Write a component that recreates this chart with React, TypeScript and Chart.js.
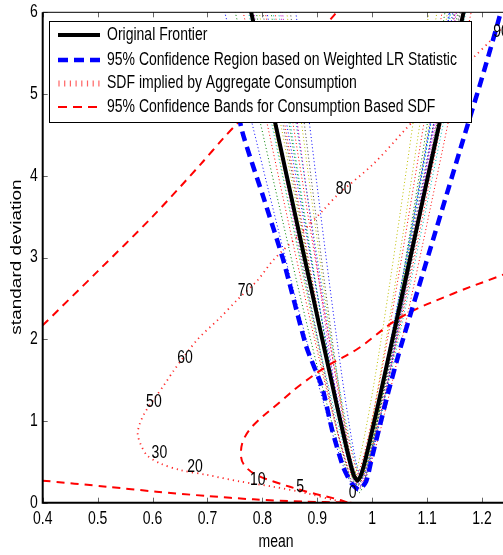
import React, { useEffect, useRef } from "react";
import { Chart, registerables } from "chart.js";
Chart.register(...registerables);

// ---------- data ----------
const meanTicks = [0.4, 0.5, 0.6, 0.7, 0.8, 0.9, 1.0, 1.1, 1.2];
const meanTickLabels = ["0.4", "0.5", "0.6", "0.7", "0.8", "0.9", "1", "1.1", "1.2"];
const sdTicks = [0, 1, 2, 3, 4, 5, 6];

const legendLabels = [
  "Original Frontier",
  "95% Confidence Region based on Weighted LR Statistic",
  "SDF implied by Aggregate Consumption",
  "95% Confidence Bands for Consumption Based SDF",
];

// [mean, standard deviation]
const originalFrontier: [number, number][] = [
  [0.7732, 6.2], [0.8119, 5], [0.8443, 4], [0.8766, 3], [0.9091, 2], [0.9353, 1.2],
  [0.9522, 0.7], [0.9614, 0.45], [0.9675, 0.32], [0.973, 0.27], [0.9785, 0.32],
  [0.9846, 0.45], [0.9938, 0.7], [1.0107, 1.2], [1.0369, 2], [1.0694, 3],
  [1.1017, 4], [1.1341, 5], [1.1728, 6.2],
];

const confidenceRegion: [number, number][] = [
  [0.735, 5.5], [0.763, 4.55], [0.802, 3.735], [0.838, 2.97], [0.88, 1.91],
  [0.909, 1.41], [0.927, 0.89], [0.947, 0.44], [0.962, 0.24], [0.976, 0.16],
  [0.989, 0.26], [0.9995, 0.55], [1.015, 0.97], [1.03, 1.37], [1.051, 1.885],
  [1.11, 3.2], [1.166, 4.45], [1.2, 5.2], [1.232, 5.95], [1.24, 6.2],
];

const sdfCurve: [number, number][] = [
  [0.962, 0.0], [0.93, 0.033], [0.881, 0.115], [0.82, 0.195], [0.759, 0.26],
  [0.699, 0.34], [0.65, 0.4], [0.614, 0.48], [0.59, 0.58], [0.578, 0.72],
  [0.573, 0.84], [0.576, 0.95], [0.585, 1.09], [0.602, 1.26], [0.62, 1.43],
  [0.639, 1.62], [0.681, 1.99], [0.724, 2.27], [0.754, 2.48], [0.791, 2.72],
  [0.82, 2.97], [0.866, 3.27], [0.911, 3.58], [0.936, 3.76], [1.003, 4.15],
  [1.058, 4.55], [1.12, 5.0], [1.185, 5.45], [1.215, 5.65], [1.245, 5.88],
];

const sdfLabels = ["0", "5", "10", "20", "30", "50", "60", "70", "80", "90"];
const sdfLabelMean = [0.9645, 0.869, 0.7915, 0.6775, 0.6125, 0.6025, 0.659, 0.7695, 0.948, 1.2345];
const sdfLabelSd = [0.122, 0.195, 0.278, 0.44, 0.61, 1.235, 1.77, 2.59, 3.84, 5.76];

const bandUpper: [number, number][] = [
  [0.4, 2.17], [0.5, 2.83], [0.6, 3.5], [0.6875, 4.14], [0.729, 4.46], [0.754, 4.64],
  [0.85, 5.36], [0.93, 5.96], [0.965, 6.25],
];

const bandLoop: [number, number][] = [
  [0.955, 0.0], [0.942, 0.033], [0.881, 0.135], [0.82, 0.26], [0.784, 0.36],
  [0.766, 0.47], [0.761, 0.58], [0.765, 0.76], [0.784, 0.95], [0.83, 1.22],
  [0.869, 1.44], [0.92, 1.68], [0.973, 1.88], [1.052, 2.27], [1.148, 2.56],
  [1.227, 2.76], [1.25, 2.82],
];

const bandLower: [number, number][] = [
  [0.4, 0.27], [0.516, 0.196], [0.607, 0.135], [0.699, 0.082], [0.784, 0.041],
  [0.881, 0.012], [0.947, 0.004], [0.96, 0.0],
];

// bootstrap frontier cloud (dotted, many colours)
const cloudLines: [number, number][][] = [
  [[0.72, 6.3], [0.966, 0.22], [1.15, 6.3]],
  [[0.74, 6.3], [0.97, 0.18], [1.165, 6.3]],
  [[0.755, 6.3], [0.968, 0.3], [1.135, 6.3]],
  [[0.765, 6.3], [0.975, 0.25], [1.18, 6.3]],
  [[0.775, 6.3], [0.972, 0.15], [1.16, 6.3]],
  [[0.785, 6.3], [0.978, 0.28], [1.145, 6.3]],
  [[0.792, 6.3], [0.974, 0.33], [1.17, 6.3]],
  [[0.8, 6.3], [0.98, 0.2], [1.155, 6.3]],
  [[0.808, 6.3], [0.976, 0.12], [1.14, 6.3]],
  [[0.815, 6.3], [0.982, 0.26], [1.19, 6.3]],
  [[0.822, 6.3], [0.979, 0.35], [1.15, 6.3]],
  [[0.83, 6.3], [0.97, 0.24], [1.16, 6.3]],
  [[0.838, 6.3], [0.973, 0.3], [1.125, 6.3]],
  [[0.845, 6.3], [0.977, 0.17], [1.168, 6.3]],
  [[0.855, 6.3], [0.981, 0.29], [1.148, 6.3]],
  [[0.78, 6.3], [0.969, 0.21], [1.158, 6.3]],
  [[0.797, 6.3], [0.975, 0.23], [1.175, 6.3]],
  [[0.812, 6.3], [0.971, 0.27], [1.152, 6.3]],
  [[0.826, 6.3], [0.978, 0.19], [1.162, 6.3]],
  [[0.77, 6.3], [0.964, 0.31], [1.11, 6.3]],
];

// ---------- styles ----------
const cloudColors = ["#0000ff", "#008000", "#ff0000", "#00bfbf", "#bf00bf", "#bfbf00", "#404040"];
const FONT = '"Liberation Sans", Arial, Helvetica, sans-serif';
const FS = 17.5;
const SX = 0.8;

function txt(ctx: CanvasRenderingContext2D, s: string, x: number, y: number, align: CanvasTextAlign, size = FS, sx = SX) {
  ctx.save();
  ctx.translate(x, y);
  ctx.scale(sx, 1);
  ctx.font = `${size}px ${FONT}`;
  ctx.fillStyle = "#000";
  ctx.textAlign = align;
  ctx.textBaseline = "middle";
  ctx.fillText(s, 0, 0);
  ctx.restore();
}

const overlay = {
  id: "overlay",
  afterDatasetsDraw(chart: any) {
    const { ctx, chartArea: a, scales } = chart;
    const xs = scales.x, ys = scales.y;
    ctx.save();
    // curve labels
    sdfLabels.forEach((l, i) => txt(ctx, l, xs.getPixelForValue(sdfLabelMean[i]), ys.getPixelForValue(sdfLabelSd[i]), "center"));
    // ticks (inward)
    ctx.strokeStyle = "#666";
    ctx.lineWidth = 1;
    ctx.setLineDash([]);
    meanTicks.forEach((v) => {
      const px = Math.round(xs.getPixelForValue(v)) + 0.5;
      ctx.beginPath();
      ctx.moveTo(px, a.bottom); ctx.lineTo(px, a.bottom - 5);
      ctx.moveTo(px, a.top); ctx.lineTo(px, a.top + 5);
      ctx.stroke();
    });
    sdTicks.forEach((v) => {
      const py = Math.round(ys.getPixelForValue(v)) + 0.5;
      ctx.beginPath();
      ctx.moveTo(a.left, py); ctx.lineTo(a.left + 5, py);
      ctx.stroke();
    });
    // axes
    ctx.strokeStyle = "#000";
    ctx.lineWidth = 1;
    ctx.beginPath();
    ctx.moveTo(a.left, a.top); ctx.lineTo(a.right + 5, a.top);
    ctx.stroke();
    ctx.lineWidth = 2;
    ctx.beginPath();
    ctx.moveTo(a.left, a.top); ctx.lineTo(a.left, a.bottom); ctx.lineTo(a.right + 5, a.bottom);
    ctx.stroke();
    // tick labels
    meanTicks.forEach((v, i) => txt(ctx, meanTickLabels[i], xs.getPixelForValue(v), a.bottom + 16.5, "center"));
    sdTicks.forEach((v) => txt(ctx, String(v), a.left - 5, ys.getPixelForValue(v), "right"));
    // axis titles
    txt(ctx, "mean", 276, 542, "center");
    ctx.save();
    ctx.translate(17, 257);
    ctx.rotate(-Math.PI / 2);
    ctx.scale(1, SX);
    ctx.font = `19px ${FONT}`;
    ctx.fillStyle = "#000";
    ctx.textAlign = "center";
    ctx.textBaseline = "middle";
    ctx.fillText("standard deviation", 0, 0);
    ctx.restore();
    // legend
    const lx = 49.5, ly = 21.5, lw = 422, lh = 101;
    ctx.fillStyle = "#fff";
    ctx.fillRect(lx, ly, lw, lh);
    ctx.strokeStyle = "#000";
    ctx.lineWidth = 1;
    ctx.strokeRect(lx, ly, lw, lh);
    const rows = [35, 60, 83.5, 107];
    const styles = [
      { c: "#000", w: 4, d: [] as number[] },
      { c: "#0000ff", w: 4.5, d: [10, 6] },
      { c: "rgba(255,60,60,0.8)", w: 1.5, d: [1.2, 4.5] },
      { c: "#ff0000", w: 2, d: [9, 6] },
    ];
    rows.forEach((ry, i) => {
      const s = styles[i];
      ctx.strokeStyle = s.c;
      ctx.lineWidth = s.w;
      ctx.setLineDash(s.d);
      ctx.lineCap = "butt";
      if (i === 2) {
        ctx.lineWidth = 1.2;
        for (let k = 0; k < 8; k++) {
          const px = 59 + k * 5.7;
          ctx.setLineDash([]);
          ctx.beginPath();
          ctx.moveTo(px, ry - 3); ctx.lineTo(px, ry + 3);
          ctx.stroke();
        }
      } else {
        ctx.beginPath();
        ctx.moveTo(58, ry); ctx.lineTo(100, ry);
        ctx.stroke();
      }
      ctx.setLineDash([]);
      txt(ctx, legendLabels[i], 107, ry, "left");
    });
    ctx.restore();
  },
};

const toPts = (arr: [number, number][]) => arr.map(([x, y]) => ({ x, y }));

export default function App() {
  const ref = useRef<HTMLCanvasElement>(null);
  useEffect(() => {
    document.body.style.margin = "0";
    const canvas = ref.current!;
    const datasets: any[] = [
      { label: legendLabels[0], data: toPts(originalFrontier), borderColor: "#000", borderWidth: 4, tension: 0.2 },
      { label: legendLabels[1], data: toPts(confidenceRegion), borderColor: "#0000ff", borderWidth: 4.5, borderDash: [10, 6], tension: 0.2 },
      { label: legendLabels[2], data: toPts(sdfCurve), borderColor: "rgba(255,0,0,0.85)", borderWidth: 1.8, borderDash: [1.2, 4], tension: 0.3 },
      { label: legendLabels[3], data: toPts(bandUpper), borderColor: "#ff0000", borderWidth: 2, borderDash: [8, 6], tension: 0.3 },
      { label: "band loop", data: toPts(bandLoop), borderColor: "#ff0000", borderWidth: 2, borderDash: [8, 6], tension: 0.35 },
      { label: "band lower", data: toPts(bandLower), borderColor: "#ff0000", borderWidth: 2, borderDash: [8, 6], tension: 0.3 },
      ...cloudLines.map((ln, i) => ({
        label: "cloud" + i,
        data: toPts(ln),
        borderColor: cloudColors[i % cloudColors.length],
        borderWidth: 1,
        borderDash: [1, 2.5],
        tension: 0.15,
      })),
    ];
    datasets.forEach((d) => { d.showLine = true; d.pointRadius = 0; d.fill = false; });
    const chart = new Chart(canvas, {
      type: "scatter",
      data: { datasets },
      options: {
        animation: false,
        responsive: false,
        devicePixelRatio: 1,
        layout: { padding: { left: 42.7, right: 2.5, top: 12.3, bottom: 52.3 } },
        scales: {
          x: { type: "linear", min: 0.4, max: 1.25, display: false },
          y: { type: "linear", min: 0, max: 6, display: false },
        },
        plugins: { legend: { display: false }, tooltip: { enabled: false } },
      },
      plugins: [overlay],
    });
    return () => chart.destroy();
  }, []);
  return (
    <div style={{ width: 503, height: 555, overflow: "hidden", background: "#fff" }}>
      <canvas ref={ref} width={512} height={555} style={{ display: "block" }} />
    </div>
  );
}
